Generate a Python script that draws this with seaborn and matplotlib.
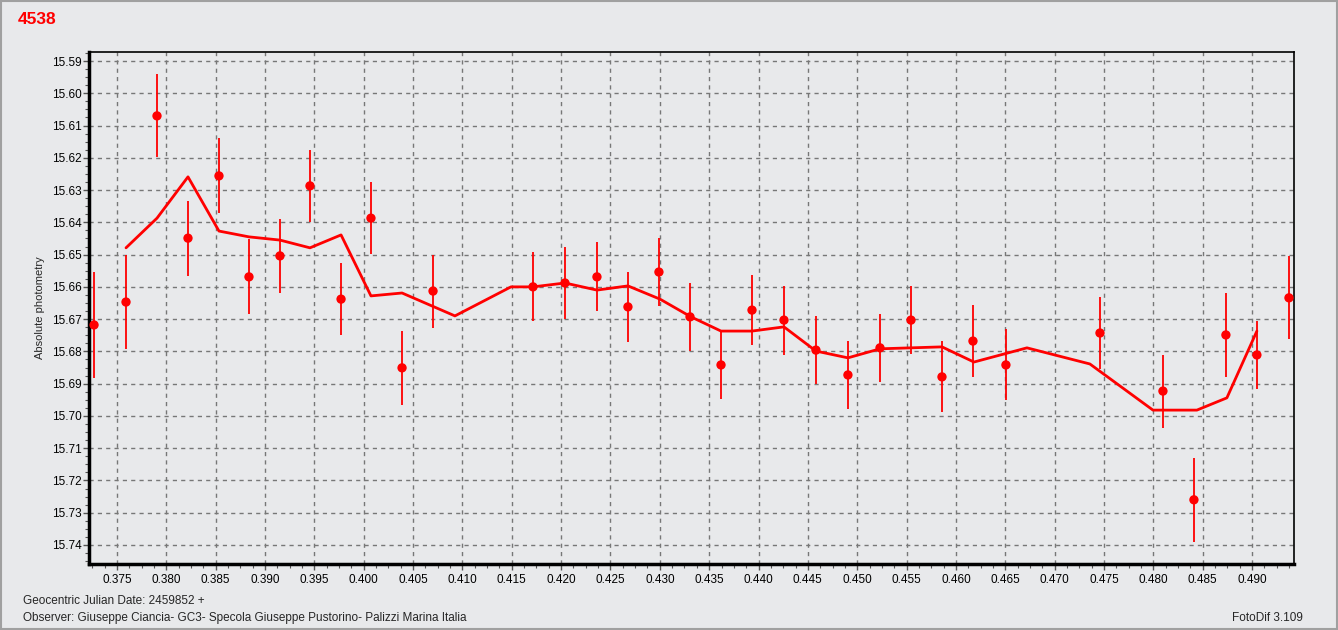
import numpy as np
import pandas as pd
import matplotlib
matplotlib.use("Agg")
import matplotlib.pyplot as plt
import seaborn as sns
from matplotlib.ticker import MultipleLocator, FormatStrFormatter
from matplotlib.patches import Rectangle

# observed points (JD fraction, magnitude, error)
obs_jd = [0.37267, 0.37591, 0.37905, 0.38219, 0.38533, 0.38837, 0.39151, 0.39455,
          0.39770, 0.40073, 0.40388, 0.40702, 0.41715, 0.42039, 0.42363, 0.42677,
          0.42991, 0.43306, 0.43620, 0.43934, 0.44258, 0.44582, 0.44906, 0.45231,
          0.45545, 0.45859, 0.46173, 0.46507, 0.47460, 0.48098, 0.48412, 0.48736,
          0.49050, 0.49375]
obs_mag = [15.6718, 15.6647, 15.6070, 15.6449, 15.6256, 15.6569, 15.6504, 15.6287,
           15.6638, 15.6387, 15.6851, 15.6613, 15.6600, 15.6588, 15.6569, 15.6662,
           15.6554, 15.6693, 15.6842, 15.6672, 15.6703, 15.6796, 15.6873, 15.6789,
           15.6703, 15.6879, 15.6768, 15.6842, 15.6743, 15.6923, 15.7260, 15.6749,
           15.6811, 15.6634]
obs_err = [0.0163, 0.0147, 0.0129, 0.0116, 0.0116, 0.0116, 0.0115, 0.0112,
           0.0112, 0.0112, 0.0115, 0.0113, 0.0107, 0.0112, 0.0107, 0.0108,
           0.0105, 0.0105, 0.0107, 0.0108, 0.0107, 0.0105, 0.0105, 0.0105,
           0.0105, 0.0110, 0.0112, 0.0110, 0.0113, 0.0113, 0.0130, 0.0130,
           0.0105, 0.0129]

# smoothed curve
fit_jd = [0.37591, 0.37905, 0.38219, 0.38533, 0.38837, 0.39151, 0.39455, 0.39770,
          0.40073, 0.40388, 0.40924, 0.41492, 0.41715, 0.42039, 0.42363, 0.42677,
          0.43002, 0.43316, 0.43620, 0.43934, 0.44258, 0.44582, 0.44906, 0.45231,
          0.45859, 0.46183, 0.46720, 0.47358, 0.47997, 0.48442, 0.48746, 0.49050]
fit_mag = [15.6479, 15.6387, 15.6259, 15.6427, 15.6445, 15.6455, 15.6479, 15.6439,
           15.6628, 15.6619, 15.6690, 15.6600, 15.6600, 15.6588, 15.6610, 15.6597,
           15.6638, 15.6693, 15.6737, 15.6737, 15.6724, 15.6799, 15.6820, 15.6792,
           15.6786, 15.6833, 15.6789, 15.6839, 15.6982, 15.6982, 15.6944, 15.6737]

obs = pd.DataFrame({"jd": obs_jd, "mag": obs_mag, "err": obs_err})
fit = pd.DataFrame({"jd": fit_jd, "mag": fit_mag})

bg = "#e8e9eb"
sns.set_style("white", {"axes.facecolor": bg, "figure.facecolor": bg})
plt.rcParams["font.family"] = ["Liberation Sans", "DejaVu Sans"]

fig = plt.figure(figsize=(13.38, 6.30), dpi=100)
ax = fig.add_axes([89 / 1338, 1 - 564 / 630, (1294 - 89) / 1338, (564 - 52) / 630])

# error bars
ax.vlines(obs["jd"], obs["mag"] - obs["err"], obs["mag"] + obs["err"],
          color="#ff0000", lw=1.3, zorder=3)
sns.lineplot(data=fit, x="jd", y="mag", ax=ax, color="#ff0000", lw=2,
             sort=False, zorder=4)
sns.scatterplot(data=obs, x="jd", y="mag", ax=ax, color="#ff0000", s=45,
                marker="o", edgecolor="none", zorder=5)

ax.set_xlim(0.37216, 0.49426)
ax.set_ylim(15.7459, 15.5872)
ax.xaxis.set_major_locator(MultipleLocator(0.005))
ax.xaxis.set_minor_locator(MultipleLocator(0.00125))
ax.xaxis.set_major_formatter(FormatStrFormatter("%.3f"))
ax.yaxis.set_major_locator(MultipleLocator(0.01))
ax.yaxis.set_minor_locator(MultipleLocator(0.0025))
ax.yaxis.set_major_formatter(FormatStrFormatter("%.2f"))
ax.grid(True, which="major", ls=(0, (3, 3)), color="#777777", lw=1)
ax.tick_params(which="both", direction="out", color="#555555", labelsize=8.5,
               labelcolor="#000000", bottom=True, left=True)
ax.tick_params(which="major", length=4, width=1)
ax.tick_params(which="minor", length=3, width=0.8)
ax.tick_params(axis="x", which="major", pad=3)
ax.tick_params(axis="y", which="major", pad=1.5)
ax.set_xlabel("")
ax.set_ylabel("Absolute photometry", fontsize=8, labelpad=5)

for side in ["top", "right"]:
    ax.spines[side].set_linewidth(1.2)
    ax.spines[side].set_color("black")
for side in ["left", "bottom"]:
    ax.spines[side].set_linewidth(2.5)
    ax.spines[side].set_color("black")

fig.text(18 / 1338, 1 - 19 / 630, "4538", color="#ff0000", fontsize=12.5,
         fontweight="bold", va="center", ha="left")
fig.text(23 / 1338, 1 - 601 / 630, "Geocentric Julian Date: 2459852 +",
         fontsize=8.5, va="center", ha="left")
fig.text(23 / 1338, 1 - 618 / 630,
         "Observer: Giuseppe Ciancia- GC3- Specola Giuseppe Pustorino- Palizzi Marina Italia",
         fontsize=8.5, va="center", ha="left")
fig.text(1303 / 1338, 1 - 618 / 630, "FotoDif 3.109", fontsize=8.5,
         va="center", ha="right")

fig.patches.append(Rectangle((0.0008, 0.0015), 0.9984, 0.997, transform=fig.transFigure,
                             fill=False, edgecolor="#a0a0a0", lw=1.5))

fig.savefig("out.png", dpi=100, facecolor=bg)
